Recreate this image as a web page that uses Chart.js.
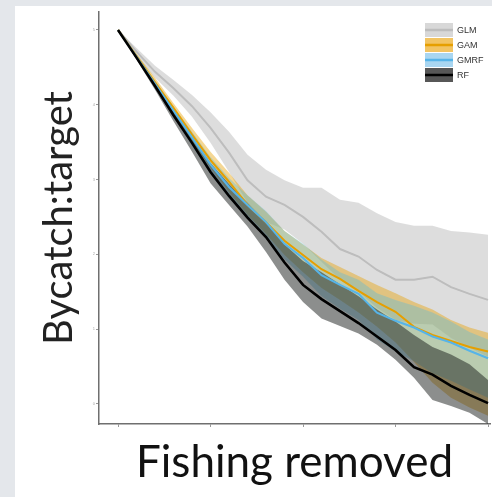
<!DOCTYPE html>
<html><head><meta charset="utf-8">
<script src="https://cdn.jsdelivr.net/npm/chart.js@4.4.1/dist/chart.umd.min.js"></script>
<style>
html,body{margin:0;padding:0;background:#e4e7eb;width:492px;height:497px;overflow:hidden}
#panel{position:absolute;left:15px;top:6px;width:477px;height:491px;background:#fff}
canvas{display:block}
</style></head><body>
<div id="panel"><canvas id="c" width="477" height="491"></canvas></div>
<script>
// x: share of fishing removed
const fishingRemoved = [0,0.05,0.10,0.15,0.20,0.25,0.30,0.35,0.40,0.45,0.50,0.55,0.60,0.65,0.70,0.75,0.80,0.85,0.90,0.95,1.00];
const xTicks = [0,0.25,0.5,0.75,1];
const yTicks = [0,1,2,3,4,5];

const glmMean  = [5.00,4.71,4.44,4.22,3.98,3.69,3.36,2.99,2.77,2.66,2.50,2.30,2.07,1.97,1.79,1.66,1.66,1.70,1.56,1.47,1.39];
const glmUpper = [5.00,4.76,4.52,4.33,4.13,3.90,3.64,3.33,3.13,2.99,2.89,2.89,2.73,2.69,2.55,2.43,2.38,2.38,2.31,2.29,2.26];
const glmLower = [5.00,4.65,4.36,4.12,3.84,3.49,3.10,2.69,2.43,2.33,2.14,1.90,1.66,1.50,1.28,1.12,1.07,1.06,0.88,0.75,0.63];

const gamMean  = [5.00,4.65,4.30,3.96,3.60,3.26,2.97,2.66,2.43,2.18,1.99,1.80,1.67,1.51,1.36,1.23,1.03,0.92,0.84,0.76,0.70];
const gamUpper = [5.00,4.68,4.36,4.02,3.69,3.37,3.09,2.79,2.57,2.31,2.13,1.95,1.83,1.71,1.59,1.48,1.36,1.26,1.12,1.02,0.95];
const gamLower = [5.00,4.63,4.25,3.89,3.50,3.16,2.83,2.53,2.27,1.99,1.76,1.55,1.39,1.22,1.03,0.82,0.56,0.28,0.08,-0.05,-0.16];

const gmrfMean  = [5.00,4.64,4.28,3.92,3.56,3.20,2.90,2.66,2.43,2.14,1.95,1.72,1.59,1.47,1.22,1.11,1.02,0.90,0.82,0.71,0.61];
const gmrfUpper = [5.00,4.67,4.32,3.97,3.64,3.30,3.02,2.79,2.58,2.31,2.14,1.93,1.76,1.66,1.48,1.39,1.31,1.22,1.10,0.96,0.86];
const gmrfLower = [5.00,4.61,4.22,3.84,3.45,3.07,2.75,2.47,2.22,1.93,1.70,1.44,1.27,1.12,0.86,0.70,0.57,0.41,0.31,0.19,0.08];

const rfMean  = [5.00,4.63,4.25,3.86,3.49,3.10,2.78,2.49,2.23,1.89,1.59,1.40,1.24,1.08,0.90,0.72,0.49,0.39,0.24,0.12,0.01];
const rfUpper = [5.00,4.65,4.29,3.93,3.57,3.22,2.94,2.69,2.43,2.13,1.91,1.76,1.60,1.44,1.26,1.10,0.92,0.76,0.66,0.53,0.32];
const rfLower = [5.00,4.60,4.20,3.78,3.37,2.95,2.66,2.37,2.03,1.66,1.36,1.14,1.04,0.94,0.79,0.59,0.35,0.05,-0.03,-0.12,-0.27];

const seriesNames = ['GLM','GAM','GMRF','RF'];
const lineColors = ['#bdbdbd','#e69f00','#56b4e9','#000000'];
const bandColors = ['rgba(175,175,175,0.42)','rgba(232,160,0,0.42)','rgba(80,185,225,0.36)','rgba(25,30,28,0.5)'];
const legendFills = ['#d8d8d8','#f2c463','#a9d6f1','#575757'];

const pts = arr => arr.map((y,i)=>({x:fishingRemoved[i], y}));
const bands = [[glmUpper,glmLower],[gamUpper,gamLower],[gmrfUpper,gmrfLower],[rfUpper,rfLower]];
const means = [glmMean,gamMean,gmrfMean,rfMean];

const datasets = [];
bands.forEach((b,i)=>{
  const ord = 40 - i*10;
  datasets.push({label:seriesNames[i]+' upper', data:pts(b[0]), borderColor:'rgba(0,0,0,0)', borderWidth:0, pointRadius:0, fill:'+1', backgroundColor:bandColors[i], order:ord});
  datasets.push({label:seriesNames[i]+' lower', data:pts(b[1]), borderColor:'rgba(0,0,0,0)', borderWidth:0, pointRadius:0, fill:false, order:ord});
});
means.forEach((m,i)=>{
  datasets.push({label:seriesNames[i], data:pts(m), borderColor:lineColors[i], borderWidth: i===3?2.6:2, pointRadius:0, fill:false, order:4-i});
});

const legendPlugin = {
  id:'bandLegend',
  afterDraw(chart){
    const ctx = chart.ctx, a = chart.chartArea;
    const x0 = a.right - 65, y0 = a.top + 18;
    ctx.save();
    seriesNames.forEach((t,i)=>{
      const cy = y0 + 15*i;
      ctx.fillStyle = legendFills[i];
      ctx.fillRect(x0, cy-7, 28, 14);
      ctx.strokeStyle = lineColors[i];
      ctx.lineWidth = 2.5;
      ctx.beginPath(); ctx.moveTo(x0, cy); ctx.lineTo(x0+28, cy); ctx.stroke();
      ctx.fillStyle = '#333';
      ctx.font = '9px "Liberation Sans", Arial, sans-serif';
      ctx.textBaseline = 'middle';
      ctx.textAlign = 'left';
      ctx.fillText(t, x0+32, cy+0.5);
    });
    ctx.restore();
  }
};

function draw(){
  new Chart(document.getElementById('c'), {
    type:'line',
    data:{datasets},
    plugins:[legendPlugin],
    options:{
      responsive:false, animation:false, devicePixelRatio:1,
      layout:{padding:{left:0,right:2,top:6,bottom:0}},
      plugins:{legend:{display:false}, tooltip:{enabled:false}},
      elements:{line:{tension:0}},
      scales:{
        x:{type:'linear', min:-0.0514, max:1.0054,
          afterBuildTicks:s=>{s.ticks = xTicks.map(v=>({value:v}));},
          afterFit:s=>{s.height = 73;},
          grid:{display:true, drawOnChartArea:false, drawTicks:true, tickLength:3, color:'#999'},
          border:{display:true, color:'#6f6f6f', width:1.5},
          ticks:{callback:()=>'', font:{size:4}, padding:0},
          title:{display:true, text:'Fishing removed', color:'#111', font:{family:'Lato', size:44, lineHeight:1}, padding:{top:0,bottom:12}}
        },
        y:{type:'linear', min:-0.27, max:5.24,
          afterBuildTicks:s=>{s.ticks = yTicks.map(v=>({value:v}));},
          afterFit:s=>{s.width = 84;},
          grid:{display:true, drawOnChartArea:false, drawTicks:true, tickLength:3, color:'#999'},
          border:{display:true, color:'#6f6f6f', width:1.5},
          ticks:{font:{size:4}, color:'#aaa', padding:1},
          title:{display:true, text:'Bycatch:target', color:'#222', font:{family:'Lato', size:40, lineHeight:1}, padding:{top:24,bottom:0}}
        }
      }
    }
  });
}
if (document.fonts && document.fonts.load) {
  document.fonts.load('40px Lato').then(draw, draw);
} else { draw(); }
</script>
</body></html>
